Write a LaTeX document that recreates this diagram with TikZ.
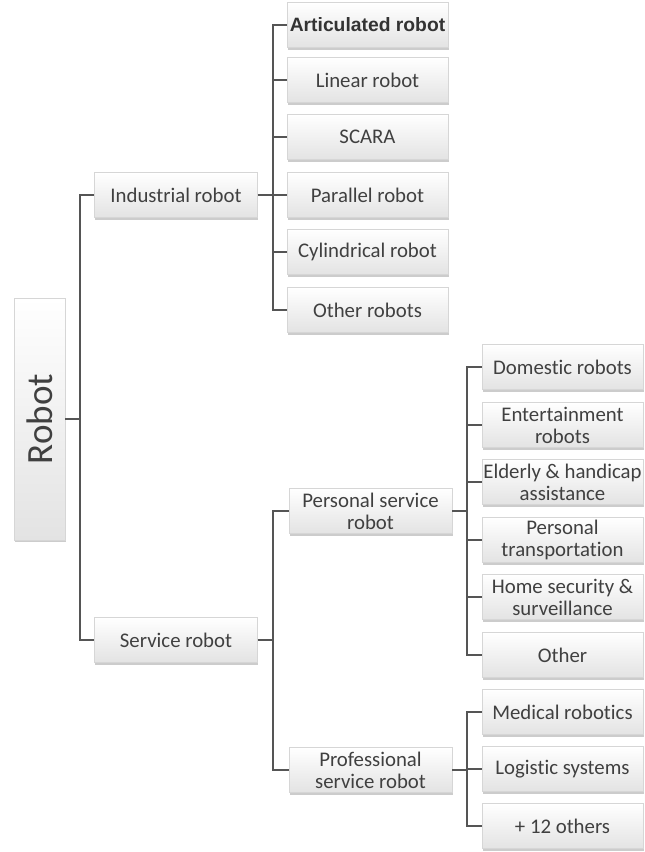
\documentclass[tikz,border=0pt]{standalone}
\usepackage{graphicx}
\usepackage{fontspec}
\setmainfont{Carlito}[Ligatures={NoCommon}]
\newfontfamily\arialfont{Liberation Sans}
\usepackage{tikz}
\usetikzlibrary{positioning,shadows}
\definecolor{txtgray}{HTML}{404040}
\definecolor{linegray}{HTML}{555555}
\definecolor{boxline}{HTML}{D6D6D6}
\tikzset{
  bx/.style={rectangle, draw=boxline, top color=white, bottom color=black!11, text=txtgray,
    minimum width=161pt, minimum height=45pt, align=center, inner sep=1pt,
    font=\fontsize{20.8}{22}\selectfont,
    drop shadow={opacity=0.4, shadow xshift=0.7pt, shadow yshift=-2pt}},
  wbx/.style={bx, minimum width=163pt},
  rootbx/.style={bx, minimum width=51pt, minimum height=242pt, font=\fontsize{37}{40}\selectfont},
  ln/.style={draw=linegray, line width=1.3pt}
}

\begin{document}
\begin{tikzpicture}[x=1pt, y=-1pt]
  \useasboundingbox (0,0) rectangle (645,852);
  % root
  \node[rootbx] (robot) at (39.5,419) {\rotatebox{90}{Robot}};
  % first level
  \node[wbx] (ind) at (176,195) {Industrial robot};
  \node[wbx] (serv) at (176,640) {Service robot};
  % industrial robots
  \node[bx, font=\arialfont\bfseries\fontsize{19.3}{21}\selectfont, text=black!80] (art) at (367.5,25) {Articulated robot};
  \node[bx] (lin) at (367.5,80) {Linear robot};
  \node[bx] (scara) at (367.5,137) {SCARA};
  \node[bx] (par) at (367.5,195) {Parallel robot};
  \node[bx] (cyl) at (367.5,252) {Cylindrical robot};
  \node[bx] (oth) at (367.5,310) {Other robots};
  % service robots
  \node[wbx] (pers) at (370.5,511) {Personal service\\robot};
  \node[wbx] (prof) at (370.5,770) {Professional\\service robot};
  \node[bx] (dom) at (562.5,367) {Domestic robots};
  \node[bx] (ent) at (562.5,425) {Entertainment\\robots};
  \node[bx] (eld) at (562.5,482) {Elderly \& handicap\\assistance};
  \node[bx] (ptr) at (562.5,540) {Personal\\transportation};
  \node[bx] (sec) at (562.5,597) {Home security \&\\surveillance};
  \node[bx] (othr) at (562.5,655) {Other};
  \node[bx] (med) at (562.5,712) {Medical robotics};
  \node[bx] (logi) at (562.5,769) {Logistic systems};
  \node[bx] (more) at (562.5,826) {+ 12 others};
  % junctions
  \coordinate (jR) at (80,419);
  \coordinate (jI) at (273,195);
  \coordinate (jS) at (273,640);
  \coordinate (jP) at (467,511);
  \coordinate (jQ) at (467,770);
  % connectors
  \draw[ln] (robot) -- (jR);
  \draw[ln] (jR) |- (ind); \draw[ln] (jR) |- (serv);
  \draw[ln] (ind) -- (jI);
  \draw[ln] (jI) |- (art); \draw[ln] (jI) |- (lin); \draw[ln] (jI) |- (scara);
  \draw[ln] (jI) |- (par); \draw[ln] (jI) |- (cyl); \draw[ln] (jI) |- (oth);
  \draw[ln] (serv) -- (jS);
  \draw[ln] (jS) |- (pers); \draw[ln] (jS) |- (prof);
  \draw[ln] (pers) -- (jP);
  \draw[ln] (jP) |- (dom); \draw[ln] (jP) |- (ent); \draw[ln] (jP) |- (eld);
  \draw[ln] (jP) |- (ptr); \draw[ln] (jP) |- (sec); \draw[ln] (jP) |- (othr);
  \draw[ln] (prof) -- (jQ);
  \draw[ln] (jQ) |- (med); \draw[ln] (jQ) |- (logi); \draw[ln] (jQ) |- (more);
\end{tikzpicture}
\end{document}
